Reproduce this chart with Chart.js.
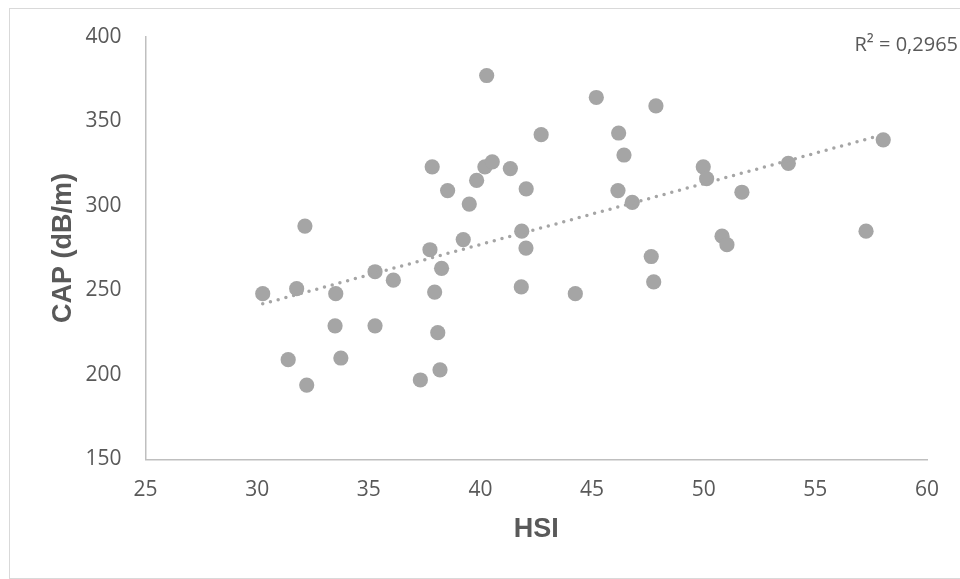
<!DOCTYPE html>
<html>
<head>
<meta charset="utf-8">
<title>CAP vs HSI</title>
<script src="https://cdn.jsdelivr.net/npm/chart.js@4/dist/chart.umd.min.js"></script>
<style>
  body { margin: 0; background: #fff; }
  canvas { display: block; }
</style>
</head>
<body>
<canvas id="grafico" width="960" height="579"></canvas>
<script>
// valores
const hsi = [30.25, 31.77, 32.14, 33.52, 33.49, 35.28, 35.28, 36.10, 31.39, 33.75,
  32.22, 37.31, 38.19, 38.09, 37.95, 37.74, 38.26, 39.23, 41.85, 42.04,
  41.83, 40.28, 42.72, 37.84, 40.20, 40.53, 41.34, 39.83, 38.53, 42.05,
  39.50, 45.19, 47.86, 46.19, 46.43, 46.16, 46.80, 49.98, 50.13, 51.71,
  53.79, 58.04, 57.27, 50.82, 51.04, 47.65, 47.76, 44.25];
const cap = [248, 251, 288, 248, 229, 261, 229, 256, 209, 210,
  194, 197, 203, 225, 249, 274, 263, 280, 285, 275,
  252, 377, 342, 323, 323, 326, 322, 315, 309, 310,
  301, 364, 359, 343, 330, 309, 302, 323, 316, 308,
  325, 339, 285, 282, 277, 270, 255, 248];

// linea de tendencia (extremos leidos)
const tendenciaX = [30.25, 57.89];
const tendenciaY = [242.0, 341.5];

const ticksX = [25, 30, 35, 40, 45, 50, 55, 60];
const ticksY = [150, 200, 250, 300, 350, 400];
const textoR2 = "R² = 0,2965";

const gris = "#a5a5a5";
const textoGris = "#595959";
const ejeGris = "#bfbfbf";
const fuenteTicks = "'Open Sans', 'Noto Sans', sans-serif";
const fuenteTitulo = "'Liberation Sans Narrow', 'Arial Narrow', 'Liberation Sans', Arial, sans-serif";

const puntos = hsi.map((x, i) => ({ x: x, y: cap[i] }));
const tendencia = tendenciaX.map((x, i) => ({ x: x, y: tendenciaY[i] }));

const extras = {
  id: "extras",
  afterDraw(chart) {
    const ctx = chart.ctx;
    ctx.save();
    ctx.strokeStyle = "#d9d9d9";
    ctx.lineWidth = 1;
    ctx.strokeRect(9.5, 8.5, 960, 570);
    ctx.fillStyle = textoGris;
    ctx.font = "20px " + fuenteTicks;
    ctx.textAlign = "right";
    ctx.textBaseline = "middle";
    ctx.fillText(textoR2, 958, 45);
    ctx.restore();
  }
};

new Chart(document.getElementById("grafico"), {
  type: "scatter",
  data: {
    datasets: [
      {
        type: "line",
        label: "Tendencia",
        data: tendencia,
        borderColor: gris,
        borderWidth: 3.5,
        borderDash: [0, 8],
        borderCapStyle: "round",
        pointRadius: 0,
        fill: false,
        order: 0
      },
      {
        label: "CAP",
        data: puntos,
        backgroundColor: gris,
        borderWidth: 0,
        pointRadius: 7.6,
        order: 1
      }
    ]
  },
  plugins: [extras],
  options: {
    responsive: false,
    animation: false,
    devicePixelRatio: 1,
    layout: { padding: { left: 0, right: 33, top: 35, bottom: 0 } },
    plugins: { legend: { display: false }, tooltip: { enabled: false } },
    scales: {
      x: {
        type: "linear",
        min: 25,
        max: 60,
        afterBuildTicks: (s) => { s.ticks = ticksX.map(v => ({ value: v })); },
        afterFit: (s) => { s.height = 119.5; },
        grid: { display: false, drawTicks: false },
        border: { display: true, color: ejeGris, width: 1.5 },
        ticks: { color: textoGris, font: { family: fuenteTicks, size: 21 }, padding: 18 },
        title: {
          display: true,
          text: "HSI",
          color: textoGris,
          font: { family: fuenteTitulo, size: 27, weight: "bold" },
          padding: { top: 0, bottom: 33 }
        }
      },
      y: {
        type: "linear",
        min: 150,
        max: 400,
        afterBuildTicks: (s) => { s.ticks = ticksY.map(v => ({ value: v })); },
        afterFit: (s) => { s.width = 145.5; },
        grid: { display: false, drawTicks: false },
        border: { display: true, color: ejeGris, width: 1.5 },
        ticks: { color: textoGris, font: { family: fuenteTicks, size: 21 }, padding: 24 },
        title: {
          display: true,
          text: "CAP (dB/m)",
          color: textoGris,
          font: { family: fuenteTitulo, size: 27, weight: "bold" },
          padding: { top: 47, bottom: 0 }
        }
      }
    }
  }
});
</script>
</body>
</html>
